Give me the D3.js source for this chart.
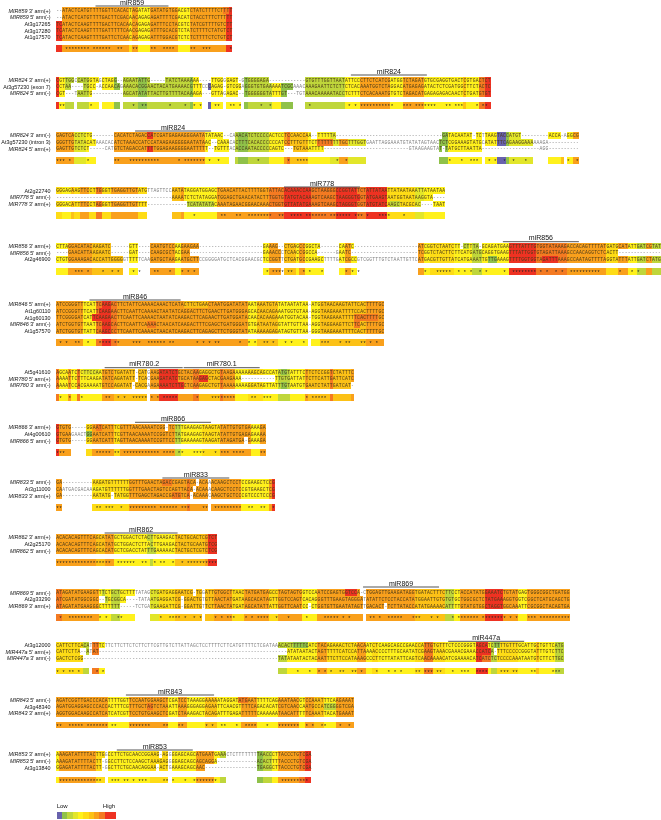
<!DOCTYPE html>
<html><head><meta charset="utf-8">
<script src="https://cdn.jsdelivr.net/npm/d3@7/dist/d3.min.js"></script>
<style>html,body{margin:0;padding:0;background:#fff;overflow:hidden}</style>
</head><body><svg id="c" width="661" height="820"></svg>
<script>
// ---------- values: names, sequences, conservation runs [length, level], star columns
const titles = [["miR859"],["miR824"],["miR824"],["miR778"],["miR856"],["miR846"],["miR780.2","miR780.1"],["miR866"],["miR833"],["miR862"],["miR869"],["miR447a"],["miR843"],["miR853"]];
const spans = [[[13,37]],[[97,122]],[[26,51]],[[75,100]],[[147,172]],[[11,41]],[[16,42],[42,67]],[[26,51]],[[35,57]],[[16,40]],[[101,126]],[[129,154]],[[23,52]],[[20,45]]];

const labels = [
 ["MIR859 3' arm(+)","MIR859 5' arm(-)","At3g17265","At3g17280","At1g17570"],
 ["MIR824 3' arm(+)","At3g57230 (exon 7)","MIR824 5' arm(-)"],
 ["MIR824 3' arm(-)","At3g57230 (intron 3)","MIR824 5' arm(+)"],
 ["At2g22740","MIR778 5' arm(-)","MIR778 3' arm(+)"],
 ["MIR856 3' arm(+)","MIR856 5' arm(-)","At2g46900"],
 ["MIR846 5' arm(+)","At1g60110","At1g60130","MIR846 3' arm(-)","At1g57570"],
 ["At5g41610","MIR780 5' arm(+)","MIR780 3' arm(-)"],
 ["MIR866 3' arm(+)","At4g00610","MIR866 5' arm(-)"],
 ["MIR833 5' arm(-)","At3g11000","MIR833 3' arm(+)"],
 ["MIR862 3' arm(+)","At2g25170","MIR862 5' arm(-)"],
 ["MIR869 5' arm(-)","At2g33290","MIR869 3' arm(+)"],
 ["At3g12000","MIR447a 5' arm(+)","MIR447a 3' arm(-)"],
 ["MIR843 5' arm(-)","At3g48340","MIR843 3' arm(+)"],
 ["MIR853 3' arm(+)","MIR853 5' arm(-)","At3g13840"]
];

const seq859 = [
 "--ATACTCAT GTTTTGGTTC ACACTAGATA TGATATGTGG ACGTCTATCT TTTCTTTT",
 "--ATACTCAT GTTTTGACTT CGACAACAGA GAGATTTTCG ACATCTACCT TTCTTTTT",
 "TCATACTCAA GTTTTGACTT CACAACAGAG AGATTTCCTA CGTCTATCGT TTTGTCTT",
 "TCATACTCAA GTTTTGATTT TTCAACGAGA GATTTGCACG TCTATCTTTT CTATGTCT",
 "TCATACTCAA GTTTTGATTC TCAACAGAGA GATTTGGACG TCTCTCTTTT CTCTGTCT"];
const seq824a = [
 "CGTTGGCCAT GGTAGCTAGG --AGAATATT G-----TATC TAAAAAA--- -TTGGGGAGT -GTGGGGAGA ---------- --GTGTTTGG TTAATATTCC CTTCTCATCG ATGGTCTAGA TGTGCGAGGT GACTCGTGAC TCT",
 "CCTAA----T GCC-ACCAAC AGAAACACGG AACTACATGA AAACGTTTCC CAGAG-GTCG GAGGGTGTGA AAAATCGCAA ACAAAGAATT CTCTTCTCAC AAATGGTCTA GGACATGAGA GATACTCTCG ATGGCTTCTA CTC",
 "CGT---TAAT TG-------- --AGCATATA TTACTTGTTT TACAAAGA-- -GTTAGAGAC --TGGGGGGT ATTTGT---T GTAAACAAAA ATACCTCTTT CTCACAAATG TGTCTAGACA TGAGAGAGAC AACTCTGATG TGT"];
const seq824b = [
 "GAGTCACCTC TG-------C ACATCTAGAC CATCGATGAG AAGGGAATAT ATAAC--CAA ACATCTCCCC ACTCCTCCAA CCAA--TTTT TA-------- ---------- ---------- -------GAT ACAATAT-TC TTAAGTACCA TGT------- --ACCA-AGG CG",
 "GGGTTGTATA CATAAACACA TCTAAACCAT CCATAAGAAG GGGAATATAA C--CAAACAC TTTCACACCC CCCATCCTTT GTTTCTTTTT TTTTGCTTTG GTGAATTAGG AAATGTATAT AGTAACTCTC GGAAAGTATG CATATTTCAG AAGGAAAAAA GA",
 "GAGTTGTCTC T-----CATG TCTAGACCAT TTTGGAGAAG GGGAATTTTT --TGTTTACA CCAATACCCC CAGTC---TG TAAATTTT-- ---------- ---------- ------GTAA GAAGTAT-TA TGCTTAATTA -------- ---------- -AGG"];
const seq778 = [
 "GGGAGAAGTT CCTTGGGTTG AGGTTGTATG TTAGTTCCAA TATAGGATGG AGCTGAACAT TACTTTTGGT ATTACACAAA CCAAGCTAAG GGCCGGTATT CTATTATAAT TATAATAAAT TATAATAA",
 "---------- ---------- ---------- --------AA AATCTCTATA GGATGGAGCT GAACATACTT TGGTGTATGT ACAAAGTCAA GCTAAGGGTG GTATGAAGTA ATGGTAATAA GGTA----",
 "GGGACATTTT CCTAGGGTTG AGGTTGTTTT ---------- ---TCATATA TACAAATAGA ACGGAACAAA CTGGTGTTAT ATGAAAGTCA AGCTAGGGTG GTATGTATCA AGCTACGCAC ----TAAT"];
const seq856 = [
 "CTTAGGACAT ACAAGATC-- ----GTT--- -CAATGTCCA AGAAGAA--- ---------- --------GA AAG--CTGAG CCGGCTA--- ---CAATC-- ---------- ---------A TCGGTCTAAT CTT-CTTTA- GCAGATGAAG TTTATTTGTG GTATAAAGAC CACAGTTTTA TGATGCATAT TGATCGTATT",
 "----GAACAT TAAGAATC-- ----GAT--- -CAAGCGCTA CGAA------ ---------- --------GA AACCCTCAAC CGGCCA---- --GAATC--- ---------- ---------T CGGTCTACTT CTTCATGATG CAGGTGAAGT TTATTGGTGT AGATTAAAGC CAACAGGTCT CACTT----- ---------- ---------",
 "CTGTGGAAAG ACACCATTGG GGGTTTTTCA AGATGCTAAG AATGCTTCCG GGGATGCTCA CGGAACGCTC CGGTTCTGAT GCCGAAGCTT TTGATCGCCG TCGGTTTGTC TAATTGTTCA TGACGTTGTT ATCATGAAAT TGTTGAAAGT TTTGGTGGTA GATTTAAAGC CAATAGTTTT AGGTATTTAT TGATCTATGT"];
const seq846 = [
 "ATCCGGGTTT CATTCAAGAC TTCTATTCAA AACAAACTCA TACTTCTGAA CTAATGGATA TATAATAAAT GTATATAATA TAA-ATGGTA ACAAGTATTC ACTTTTGCAG GTTCGTAC",
 "ATCCGGGTTT CATTCAAGAA CTTCAATTCA AAACTAATAT CAGGACTTCT GAACTTGATG GGAGCACAAC AGAAATGGTG TAA-AGGTAA GAAATTTTCC ACTTTTGCAG GTACGTAC",
 "TTCGGGGATC ATTCAAGAAC TTCAATTCAA AACTAATATC AAGACTTCAG AACTTGATGG ATACAACACA AGAAATGGTA CAA-TGGTAA GAAATTTTTC ACTTTTGCAG GTACGTAC",
 "ATCTGGTGTT AATTCAAGCA CTTCAATTCA AAACTAACAT CAAGACTTTC GAGCTGATGG GATGTGATAA TAGGTATTGT TAA-AGGTAG GAAGTTCTTC ACTTTTGCAG GTTCGTAC",
 "ATCTGGTGTT ATTCAAGCCC TTCAATTCAA AACTAACATC AAGACTTCAG AGCTTCTGGG TATATAAAAA GAGATAGTGT TAA-GGGTAA GAAATTTTCA CTTTTTGCAG GTTCGTAC"];
const seq780 = [
 "AGCAATCTCT TCCAATGTCT GATATT-CAT GAAGATATCT GCTACAAGAG GCTGTAAGAA AAAAAGCAGC CATATGTATT TCTTCTCCGG TCTATTTC",
 "AAAATTCTTT CAAGATATCA GATATT-TCA CGAAGATATC TGCATAAGAG CTACGAAGAA A--------- --TTGTGATT ATTCTTCATT GATTCATC",
 "AAAATCCACG AAAATGTCCA GATAT-CACG AAGAAAATCT TGCTCAAGAG CTGTTAAAAA AAAGGATAGT TATTTGTAAT GTGAATCTAT TGATCAT-"];
const seq866 = [
 "GTGTG----- GGAATCATTT CGTTTAACAA AATCGG-TCT TTGAAGAGTA AGTATATTGT GTGAAAAGA",
 "GTGAAGAACT GGAATCATTT CGTTAACAAA ATCCGGTCTT ATGAAGAGTA AGTATATTGT GAGAGAAAA",
 "GTGTG----- GGAATCATTT AGTTAACAAA ATCCGTTCCT TGAAAAAGTA AGATATAGAT GA-GAAAGA"];
const seq833 = [
 "GA-------- --AAGATGTT TTTTGGTTTG AACTAGACCG AGTACA-ACA AACAAGCTCC TCCGAAGCTC CG",
 "CAATGACGAC AAAGATGTTT TTTGGTTTGA ACTAGTCCAG TTACA-ACAA ACAAGCTCCT CCGTGAAGCT CG",
 "GA-------- --AATATG-T ATGGTTTGAG CTAGACCGAT GTCA-ACAAA CAAGCTGCTC CCGTCCCTCC CG"];
const seq862 = [
 "ACACACAGTT TCAGCATATG CTGGACTCTA CTTGAAGACT ACTGCACTCG TCT",
 "ACACACAGTT TCAGCATATG CTGGACTCTT ACTTGAAGAC TACTGCAATG TCG",
 "ACACACAGTT TCAGCACATG CTCGACCTAT TTGAAAAACT ACTGCTCGTC TCG"];
const seq869 = [
 "ATAGATATGA AGGTTTCTGC TGCTTTTATA GCTGATGAGG AATCG-TGGA TTGTGGCTTA ACTATGATGA GCCTAGTAGT GGTCCAATCC GAGTGGTCCA -CTGGAGTTG AAGATAGGTG ATACTTTCTT CCTACCATAT GGAAATCTGT ATGAGTGGGC GGCTGATGG",
 "ATCGATATGG CGGC--TGCG GCA----TAT AATGAGGATC G-GGACTGTG TTAACTATGA TAAGCACATA GTTGGTCCAG TCACAGGGTT TGAAGTAGGG ATATATTCTC CTACCATATG GAATTGTGTG TGCTGGCGCT CTATGAAAGG TGGTCGGCTC ATGCAGCTG",
 "ATAGATATGA AGGGCTTTTT T-----TCTG ATGAAGATTC G-GGATTGTT CTTAACTATG ATAGCATATT ATTGGTTCAA TCC-CTGGTG TTGAATATAG TTGACACT-T CTTATACCAT ATGAAAACAT TTTGTATGTG GCTAGGTGGC AAATTCGCGG CTACAGTGA"];
const seq447 = [
 "CATTCTTCAC ATTTTCTTCT TCTTCTCTTC TTCGTTGTCT TATTAGCTCC TTTTCTTCAT GTTTTCTCGA TAAACACTTT TTCATCTACA GAAACTCTAA CAATCTCAAG CAGCCGAACC ATTGTGTTTC TCCCGGGTAG CATCTTTTGT TTGCATTGCT GTTCATG",
 "CATTCTTA-- ATAT------ ---------- ---------- ---------- ---------- ---------- ------ATAT AATACTAGTT TTTCATCCAT TAAAACCCCT TTGCAATATC GAAGTAAACG AAACGAAACC ATCA-TTTCC CCCGGGTATT TGTCTTC",
 "GACTCTCGG- ---------- ---------- ---------- ---------- ---------- ---------- ---TATATAA TACTACAATT TCTTCCATAA AGCCCTTCTT ATATTCAGTC AACAAAACAT CGAAAACATC ATCTCTCCCC AAATAATGTC TTCTTGC"];
const seq843 = [
 "AGATCGGTTG ACCCACATTT TGGTTCCAAT GGAAGCTCGA TCCTAAAGGA AAAATAGGAT ATGAATTTTT CAGAAATAAC GTCCAAATTT CAAGAAAT",
 "AGATGGAGGA GCCCACCACT TTCGTTTGCT AGTCTAAATT AAAGGGAGGA GAATTCAACG TTTTCAGACA CATCGTCAAC CAATGCCATC GGGGTCGA",
 "AGGTGGACAA GCCATCATCA TCGTTCCTGT GAAGCTCGAT CTAAAGACTA CAGATTTGAG ATTTTTCAAA AAATAACATT TTTCAAATTA CATGAAAT"];
const seq853 = [
 "AAAGATATTT TACTTGGCCT TCTGCAACCG GAAG-AGGGG AGCAGCATGA ATGAAACTCT TTTTTTTAAC CCTTACCCTG TCGA",
 "AAAGATATTT TACTT-GGCC TTCTCCAAGC TAAAGAGGGG AGCAGCAGCA GGA------- ------ACAC TTTTACCCTG TCGA",
 "GGAGATATTT TACTT-GGCT TCTGCAACAG GAA-ACTGAA AGCAGCAAC- ---------- ------TGAG GCTTACCCTG TCGA"];
const sequences = [seq859,seq824a,seq824b,seq778,seq856,seq846,seq780,seq866,seq833,seq862,seq869,seq447,seq843,seq853];

const runs = [
 [[2,9],[22,7],[1,5],[2,7],[4,4],[9,7],[4,4],[12,7],[2,9]],
 [[1,9],[2,4],[3,2],[1,-1],[4,2],[3,4],[1,-1],[4,4],[2,1],[1,-1],[5,2],[3,1],[14,2],[1,1],[3,4],[2,-1],[1,0],[4,4],[1,-1],[5,4],[1,-1],[1,1],[8,2],[3,4],[4,1],[4,-1],[13,2],[5,4],[10,7],[4,4],[7,7],[13,4],[1,6],[4,4],[2,8],[2,9]],
 [[6,7],[4,3],[3,4],[6,-1],[30,7],[8,4],[2,-1],[1,2],[3,1],[7,2],[5,4],[1,7],[1,8],[1,6],[5,6],[7,4],[3,3],[3,7],[6,3],[24,-1],[3,1],[11,4],[1,-1],[4,4],[3,0],[1,1],[8,3],[5,-1],[4,4],[1,6],[1,-1],[2,4],[2,7]],
 [[2,5],[3,4],[1,6],[2,5],[3,7],[2,5],[2,8],[3,5],[9,7],[3,5],[8,-1],[3,6],[1,7],[11,4],[17,7],[5,8],[9,9],[8,8],[7,9],[3,8],[7,9],[9,5],[3,3],[7,4]],
 [[4,4],[8,7],[10,6],[2,-1],[3,4],[4,-1],[8,7],[2,4],[6,7],[21,-1],[2,4],[4,7],[1,-1],[4,6],[1,4],[2,7],[6,4],[5,-1],[2,4],[2,7],[2,4],[20,-1],[2,7],[2,4],[8,5],[6,4],[3,2],[3,4],[6,4],[9,9],[10,8],[13,7],[4,5],[3,7],[3,4],[3,2],[2,7],[3,2]],
 [[9,7],[4,4],[2,8],[3,9],[2,8],[43,7],[3,4],[7,6],[10,4],[1,-1],[3,4],[15,6],[6,7]],
 [[1,8],[3,4],[1,7],[2,4],[1,8],[7,4],[4,7],[11,6],[1,-1],[3,7],[6,9],[5,7],[2,8],[7,6],[1,8],[4,7],[4,4],[5,5],[5,4],[4,2],[5,4],[1,7],[7,6],[1,8],[6,6],[1,7]],
 [[1,9],[4,7],[5,-1],[2,5],[7,7],[2,5],[18,7],[2,2],[7,4],[6,5],[10,7],[3,4],[2,7]],
 [[2,7],[10,-1],[12,5],[19,7],[1,8],[6,7],[1,-1],[10,7],[9,4],[1,7],[1,9]],
 [[13,7],[3,6],[3,7],[12,4],[1,2],[7,4],[10,6],[1,7],[3,9]],
 [[2,8],[12,7],[4,4],[3,2],[5,4],[5,-1],[3,3],[5,5],[9,6],[1,-1],[3,6],[6,7],[4,5],[8,7],[3,5],[8,7],[5,4],[15,7],[1,-1],[16,7],[10,6],[3,2],[2,4],[8,7],[6,9],[5,7],[3,4],[14,7]],
 [[9,5],[2,2],[1,-1],[2,8],[2,4],[57,-1],[3,2],[10,4],[3,7],[10,5],[3,7],[2,4],[2,5],[12,4],[3,5],[3,8],[4,5],[10,4],[4,9],[1,4],[2,2],[7,5],[6,4],[1,6],[5,4],[3,2]],
 [[17,7],[7,4],[10,7],[3,7],[3,4],[3,7],[6,4],[4,6],[8,4],[5,7],[7,4],[7,7],[2,4],[3,7],[3,6],[4,4],[6,7]],
 [[1,4],[12,7],[3,5],[1,-1],[14,4],[6,5],[1,-1],[8,4],[6,7],[2,4],[2,2],[10,-1],[2,1],[3,2],[2,4],[7,7],[2,8],[2,9]]
];

const stars = [
 [[3,10],[12,17],20,21,25,26,31,32,[35,38],44,45,[48,50],57],
 [1,2,11,25,28,29,37,42,45,47,52,53,57,58,60,67,70,83,96,98,[100,110],[114,116],[118,124],128,129,[131,133],138,140,141],
 [0,1,2,4,10,19,20,[24,33],40,[42,48],50,53,66,76,[79,82],92,95,129,133,136,137,138,142,144,147,150,154,168,171],
 [45,54,55,59,60,[63,70],73,74,[77,80],[82,88],[90,96],[98,100],102,[106,109],114],
 [[6,8],10,15,18,20,25,27,32,33,37,41,43,45,69,[71,74],76,77,81,83,87,95,97,99,121,[125,129],132,134,136,139,141,147,[150,157],159,161,164,166,[169,178],185,189,191],
 [1,3,6,7,10,[14,17],19,20,25,26,27,[30,35],37,38,46,48,50,52,53,60,63,65,68,69,71,75,77,81,87,88,89,93,95,96,100,101,103,105],
 [1,4,8,16,17,20,22,[25,29],31,33,35,[36,39],46,[51,58],64,65,68,69,70,82,84,[85,88]],
 [0,1,2,[13,17],19,20,[22,33],[35,38],40,41,[45,48],52,[54,56],[58,61],67,68],
 [0,1,13,14,16,17,18,21,[24,32],[34,39],41,42,43,48,49,[52,60],63,64,67,68,71],
 [[0,15],16,17,[20,25],28,29,32,34,35,38,41,[43,48],[49,52]],
 [1,[4,11],14,16,20,21,34,[37,40],42,45,47,52,54,[56,58],62,64,[66,69],72,76,82,[88,92],94,96,103,104,106,[109,113],[117,119],123,125,130,[132,138],[140,147],149,151,[155,157],[159,168]],
 [0,2,4,5,7,13,15,79,83,86,88,90,93,94,97,98,100,105,109,111,113,118,119,[121,123],125,126,130,133,134,135,[138,141],[146,148],150,151,156,157,[163,165]],
 [0,1,[4,8],[10,16],18,19,[24,30],35,36,40,41,49,51,54,55,59,[62,65],69,[73,79],82,84,87,88,93,96],
 [[1,13],14,18,19,20,22,23,25,27,28,29,35,36,38,42,[45,51],52,[74,82]]
];

// per-row departures from the column level: [row, column, length, level]
const rowShifts = [
 [[2,0,1,9],[0,55,2,8]],
 [[0,0,1,9],[0,20,2,1]],
 [[0,30,2,9],[2,30,2,9],[1,86,5,8],[2,145,3,1]],
 [[2,43,9,2],[1,92,8,9],[0,80,4,9],[2,110,3,2]],
 [[2,142,3,1],[0,133,3,2],[1,152,4,9],[2,160,5,9]],
 [[2,98,8,8],[1,14,3,9],[2,12,3,9],[3,98,2,8],[0,42,8,6],[3,30,3,8]],
 [[0,9,5,3],[1,47,3,9],[2,40,2,9],[0,74,2,1],[2,74,2,1]],
 [[1,10,2,1],[0,13,2,8]],
 [[0,35,3,8],[2,38,3,8],[1,12,4,4]],
 [[2,30,3,2],[0,30,1,2]],
 [[0,95,4,9],[1,14,3,2],[0,15,1,2],[2,14,3,4]],
 [[0,78,5,1],[0,73,5,2],[2,140,3,8],[1,140,3,9],[0,144,2,1]],
 [[1,30,2,8],[0,60,3,8],[1,88,4,2]],
 [[2,66,2,1],[2,50,2,2]]
];

const levelColors = ["#6762ad","#8fc14a","#bfd63a","#e2e62c","#fff11f","#fedc15","#fcc117","#f9a01b","#f47a20","#ee3324"];
const legendLevels = [0,1,2,3,4,5,6,7,8,9,9];
const legendEnds = ["Low","High"];

// ---------- layout
const firstRowY = [10.7,80,135.5,190.7,246,304.3,372,427.3,482.3,537.3,592.6,645,700,754.3];
const bandY = [45.3,102.3,157.3,212.3,268.3,339.3,394.3,449.3,504.3,559.3,614.3,667.7,721.7,776.7];
const barY = [6,75,131,187,241.7,300,367.7,422.3,478,533,587,641.3,695,750];
const ROW = 6.67, BAND_H = 6.6, COL = 3.04, X0 = 56;

const x = d3.scaleLinear().domain([0,1]).range([X0, X0+COL]);
const color = d3.scaleOrdinal().domain(d3.range(10)).range(levelColors);
const svgRoot = d3.select("#c");
// the reference is a soft, resampled figure
svgRoot.append("defs").append("filter").attr("id","soft")
  .attr("filterUnits","userSpaceOnUse").attr("x",0).attr("y",0).attr("width",661).attr("height",820)
  .append("feGaussianBlur").attr("stdDeviation",0.32);
const svg = svgRoot.append("g").attr("filter","url(#soft)");

const expandRuns = r => r.flatMap(([n,l]) => d3.range(n).map(() => l));
const expandStars = s => s.flatMap(v => Array.isArray(v) ? d3.range(v[0], v[1]+1) : [v]);

function stretches(levels){
  const out=[]; levels.forEach((l,i)=>{ const t=out[out.length-1];
    if(t && t.l===l) t.n++; else out.push({s:i,n:1,l}); });
  return out.filter(d=>d.l>=0);
}

titles.forEach((names,b)=>{
  const g = svg.append("g");
  const cols = expandRuns(runs[b]);
  const n = cols.length;
  const rows = sequences[b].map(s=>s.replace(/\s/g,"").slice(0,n).padEnd(n,"-"));
  const y0 = firstRowY[b];

  rows.forEach((seq,r)=>{
    const lv = cols.map((l,i)=> (l<0 || seq[i]==="-") ? -1 : l);
    rowShifts[b].filter(d=>d[0]===r).forEach(([,c,len,l])=>{
      for(let i=c;i<c+len&&i<n;i++) if(lv[i]>=0) lv[i]=l; });
    const yTop = y0 + r*ROW - ROW/2;
    g.append("g").selectAll("rect").data(stretches(lv)).join("rect")
      .attr("x",d=>x(d.s)).attr("width",d=>x(d.s+d.n)-x(d.s))
      .attr("y",yTop).attr("height",ROW)
      .attr("fill",d=>color(d.l)).attr("shape-rendering","crispEdges");
  });

  rows.forEach((seq,r)=>{
    const y = y0 + r*ROW;
    const parts=[]; [...seq].forEach((ch,i)=>{ const on = cols[i]>=0 && ch!=="-";
      const t=parts[parts.length-1];
      if(t && t.on===on) t.idx.push(i); else parts.push({on,idx:[i]}); });
    g.append("text").attr("y",y+1.6)
      .attr("font-family","'Liberation Mono','DejaVu Sans Mono',monospace").attr("font-size",4.7)
      .selectAll("tspan").data(parts).join("tspan")
      .attr("x",d=>d.idx.map(i=>(x(i)+0.15).toFixed(2)).join(" "))
      .attr("fill",d=>d.on?"#4a3a1a":"#808080")
      .text(d=>d.idx.map(i=>seq[i]).join(""));
    const m = labels[b][r].match(/^(MIR\d+a?)(.*)$/);
    const t = g.append("text").attr("x",50.5).attr("y",y+1.9).attr("text-anchor","end")
      .attr("font-family","'Liberation Sans',Arial,sans-serif").attr("font-size",5.4).attr("fill","#111");
    if(m){ t.append("tspan").attr("font-style","italic").text(m[1]); t.append("tspan").text(m[2]); }
    else t.text(labels[b][r]);
  });

  g.append("g").selectAll("rect").data(stretches(cols)).join("rect")
    .attr("x",d=>x(d.s)).attr("width",d=>x(d.s+d.n)-x(d.s))
    .attr("y",bandY[b]).attr("height",BAND_H)
    .attr("fill",d=>color(d.l)).attr("shape-rendering","crispEdges");
  const st = expandStars(stars[b]).filter(c=>c<n);
  g.append("text").attr("y",bandY[b]+6.1)
    .attr("font-family","'Liberation Mono',monospace").attr("font-size",5.2).attr("fill","#222")
    .attr("x",st.map(c=>x(c).toFixed(2)).join(" "))
    .text(st.map(()=>"*").join(""));

  names.forEach((name,i)=>{
    const [a,z] = spans[b][i];
    g.append("line").attr("x1",x(a)).attr("x2",x(z)-(names.length>1&&i===0?1:0))
      .attr("y1",barY[b]).attr("y2",barY[b]).attr("stroke","#555").attr("stroke-width",1);
    g.append("text").attr("x",(x(a)+x(z))/2).attr("y",barY[b]-1.4).attr("text-anchor","middle")
      .attr("font-family","'Liberation Sans',Arial,sans-serif").attr("font-size",7).attr("fill","#111").text(name);
  });
});

const lx = d3.scaleBand().domain(d3.range(legendLevels.length)).range([56.7,115.2]);
const lg = svg.append("g");
lg.selectAll("rect").data(legendLevels).join("rect")
  .attr("x",(d,i)=>lx(i)).attr("width",lx.bandwidth()+0.3).attr("y",811.6).attr("height",7.6)
  .attr("fill",d=>color(d)).attr("shape-rendering","crispEdges");
lg.selectAll("text").data(legendEnds).join("text")
  .attr("x",(d,i)=>i?115.2:56.7).attr("y",808.2).attr("text-anchor",(d,i)=>i?"end":"start")
  .attr("font-family","'Liberation Sans',Arial,sans-serif").attr("font-size",6).attr("fill","#111").text(d=>d);
</script></body></html>
